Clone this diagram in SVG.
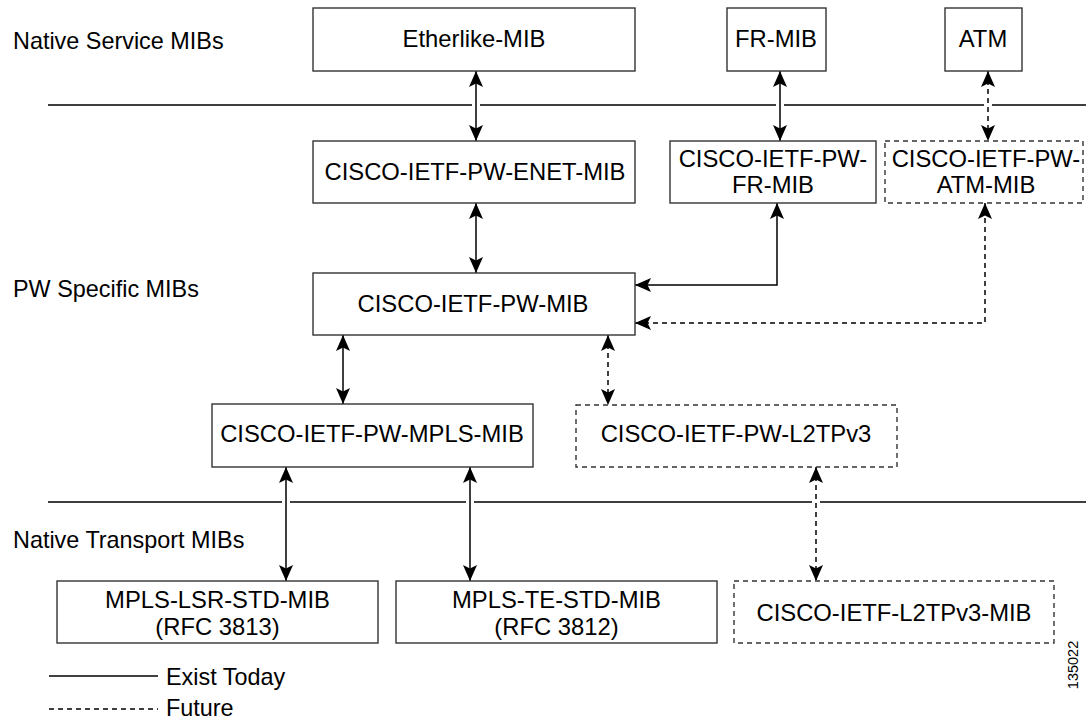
<svg xmlns="http://www.w3.org/2000/svg" width="1086" height="719" viewBox="0 0 1086 719">
<style>
.box{fill:#fff;stroke:#333;stroke-width:1.4}
.dbox{fill:#fff;stroke:#333;stroke-width:1.4;stroke-dasharray:5,4}
.t{font-family:"Liberation Sans",Arial,sans-serif;font-size:23.8px;fill:#000;text-anchor:middle}
.lbl{font-family:"Liberation Sans",Arial,sans-serif;font-size:23.4px;fill:#000}
.sep{stroke:#000;stroke-width:1.5;fill:none}
.c{stroke:#000;stroke-width:1.5;fill:none}
.cd{stroke:#000;stroke-width:1.5;fill:none;stroke-dasharray:5,4}
</style>
<defs>
<marker id="ah" viewBox="0 0 16 14" refX="16" refY="7" markerWidth="16" markerHeight="14" markerUnits="userSpaceOnUse" orient="auto-start-reverse">
<path d="M0,0 L16,7 L0,14 L3.5,7 Z" fill="#000"/>
</marker>
</defs>
<rect width="1086" height="719" fill="#fff"/>

<g id="labels">
<text class="lbl" x="13" y="49">Native Service MIBs</text>
<text class="lbl" x="13" y="297">PW Specific MIBs</text>
<text class="lbl" x="13" y="548">Native Transport MIBs</text>
</g>

<g id="separators">
<path class="sep" d="M48,105 H472 M480,105 H776 M784,105 H984 M992,105 H1086"/>
<path class="sep" d="M48,502 H282 M290,502 H466 M474,502 H812 M820,502 H1086"/>
</g>

<g id="connectors">
<path class="c" d="M476,71 V141" marker-start="url(#ah)" marker-end="url(#ah)"/>
<path class="c" d="M780,71 V141" marker-start="url(#ah)" marker-end="url(#ah)"/>
<path class="cd" d="M988,71 V141" marker-start="url(#ah)" marker-end="url(#ah)"/>
<path class="c" d="M476,203 V273" marker-start="url(#ah)" marker-end="url(#ah)"/>
<path class="c" d="M635,285 H777 V203" marker-start="url(#ah)" marker-end="url(#ah)"/>
<path class="cd" d="M635,323 H985 V203" marker-start="url(#ah)" marker-end="url(#ah)"/>
<path class="c" d="M343,335 V404" marker-start="url(#ah)" marker-end="url(#ah)"/>
<path class="cd" d="M608,335 V405" marker-start="url(#ah)" marker-end="url(#ah)"/>
<path class="c" d="M286,467 V581" marker-start="url(#ah)" marker-end="url(#ah)"/>
<path class="c" d="M470,467 V581" marker-start="url(#ah)" marker-end="url(#ah)"/>
<path class="cd" d="M816,467 V581" marker-start="url(#ah)" marker-end="url(#ah)"/>
</g>

<g id="etherlike-mib">
<rect class="box" x="313" y="8" width="322" height="63"/>
<text class="t" x="474" y="47">Etherlike-MIB</text>
</g>
<g id="fr-mib">
<rect class="box" x="727" y="8" width="99" height="63"/>
<text class="t" x="776" y="47">FR-MIB</text>
</g>
<g id="atm">
<rect class="box" x="945" y="8" width="77" height="63"/>
<text class="t" x="983" y="47">ATM</text>
</g>
<g id="pw-enet-mib">
<rect class="box" x="313" y="141" width="322" height="62"/>
<text class="t" x="475" y="180">CISCO-IETF-PW-ENET-MIB</text>
</g>
<g id="pw-fr-mib">
<rect class="box" x="670" y="141" width="206" height="62"/>
<text class="t" x="773" y="167">CISCO-IETF-PW-</text>
<text class="t" x="773" y="193">FR-MIB</text>
</g>
<g id="pw-atm-mib">
<rect class="dbox" x="885" y="141" width="198" height="62"/>
<text class="t" x="986" y="167">CISCO-IETF-PW-</text>
<text class="t" x="986" y="193">ATM-MIB</text>
</g>
<g id="pw-mib">
<rect class="box" x="313" y="273" width="322" height="62"/>
<text class="t" x="473" y="312">CISCO-IETF-PW-MIB</text>
</g>
<g id="pw-mpls-mib">
<rect class="box" x="212" y="404" width="321" height="63"/>
<text class="t" x="372" y="442">CISCO-IETF-PW-MPLS-MIB</text>
</g>
<g id="pw-l2tpv3">
<rect class="dbox" x="576" y="405" width="321" height="62"/>
<text class="t" x="736" y="442">CISCO-IETF-PW-L2TPv3</text>
</g>
<g id="mpls-lsr-std-mib">
<rect class="box" x="57" y="581" width="321" height="62"/>
<text class="t" x="217.5" y="608">MPLS-LSR-STD-MIB</text>
<text class="t" x="217.5" y="635">(RFC 3813)</text>
</g>
<g id="mpls-te-std-mib">
<rect class="box" x="396" y="581" width="321" height="62"/>
<text class="t" x="556.5" y="608">MPLS-TE-STD-MIB</text>
<text class="t" x="556.5" y="635">(RFC 3812)</text>
</g>
<g id="l2tpv3-mib">
<rect class="dbox" x="734" y="581" width="320" height="62"/>
<text class="t" x="894" y="621">CISCO-IETF-L2TPv3-MIB</text>
</g>

<g id="legend">
<line class="c" x1="49" y1="676" x2="158" y2="676"/>
<text class="lbl" x="166" y="685">Exist Today</text>
<line class="c" x1="49" y1="709" x2="158" y2="709" stroke-dasharray="5,4"/>
<text class="lbl" x="166" y="716">Future</text>
</g>

<text font-family="'Liberation Sans',Arial,sans-serif" font-size="14.5" text-anchor="middle" transform="translate(1078,665) rotate(-90)">135022</text>
</svg>
